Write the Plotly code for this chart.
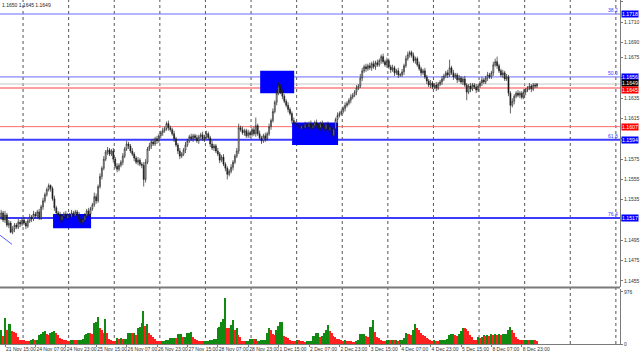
import plotly.graph_objects as go
import pandas as pd

# ---------------- data ----------------
start_time = "2025-11-21 13:00"
first_open = 1.1518

close = [
    1.1522,1.1515,1.1520,1.1510,1.1512,1.1503,1.1506,1.1510,1.1508,1.1513,1.1511,1.1515,1.1512,1.1509,1.1514,1.1518,1.1516,1.1521,1.1519,1.1523,
    1.1517,1.1528,1.1534,1.1540,1.1545,1.1549,1.1546,1.1536,1.1527,1.1522,1.1520,1.1515,1.1519,1.1521,1.1517,1.1520,1.1518,1.1522,1.1519,1.1523,
    1.1520,1.1516,1.1513,1.1515,1.1519,1.1524,1.1521,1.1526,1.1530,1.1538,1.1534,1.1548,1.1558,1.1566,1.1575,1.1582,1.1584,1.1580,1.1583,1.1575,
    1.1568,1.1565,1.1569,1.1572,1.1578,1.1585,1.1590,1.1588,1.1583,1.1580,1.1576,1.1572,1.1574,1.1570,1.1569,1.1555,1.1572,1.1585,1.1588,1.1592,
    1.1590,1.1595,1.1593,1.1598,1.1601,1.1603,1.1605,1.1610,1.1606,1.1604,1.1600,1.1595,1.1589,1.1583,1.1578,1.1580,1.1584,1.1589,1.1593,1.1597,
    1.1595,1.1598,1.1596,1.1593,1.1597,1.1599,1.1595,1.1597,1.1600,1.1596,1.1590,1.1586,1.1588,1.1583,1.1580,1.1574,1.1577,1.1570,1.1566,1.1560,
    1.1563,1.1567,1.1572,1.1578,1.1583,1.1606,1.1604,1.1601,1.1603,1.1598,1.1601,1.1599,1.1604,1.1600,1.1608,1.1600,1.1596,1.1593,1.1598,1.1595,
    1.1600,1.1607,1.1613,1.1622,1.1631,1.1640,1.1647,1.1641,1.1637,1.1632,1.1628,1.1624,1.1620,1.1613,1.1610,1.1609,1.1607,1.1605,1.1608,1.1606,
    1.1609,1.1607,1.1610,1.1606,1.1608,1.1611,1.1608,1.1606,1.1610,1.1607,1.1605,1.1609,1.1604,1.1606,1.1598,1.1605,1.1614,1.1618,1.1620,1.1622,
    1.1625,1.1628,1.1630,1.1633,1.1636,1.1638,1.1641,1.1645,1.1647,1.1655,1.1662,1.1666,1.1664,1.1667,1.1665,1.1669,1.1666,1.1670,1.1668,1.1672,
    1.1676,1.1671,1.1668,1.1672,1.1666,1.1663,1.1665,1.1660,1.1662,1.1658,1.1658,1.1661,1.1667,1.1674,1.1678,1.1680,1.1677,1.1672,1.1674,1.1668,
    1.1664,1.1660,1.1662,1.1656,1.1652,1.1648,1.1650,1.1646,1.1648,1.1645,1.1649,1.1651,1.1654,1.1657,1.1660,1.1658,1.1665,1.1660,1.1656,1.1658,
    1.1653,1.1655,1.1651,1.1654,1.1648,1.1641,1.1647,1.1644,1.1648,1.1646,1.1643,1.1647,1.1650,1.1653,1.1651,1.1655,1.1658,1.1656,1.1660,1.1668,
    1.1671,1.1667,1.1662,1.1658,1.1660,1.1654,1.1656,1.1640,1.1628,1.1632,1.1637,1.1640,1.1638,1.1640,1.1636,1.1641,1.1643,1.1645,1.1647,1.1644,
    1.1648,1.1647,1.1649,
]

# wick lengths above / below the candle body, in pips
wick_up = [
    3,2,4,2,3,2,3,2,2,3,2,2,3,2,2,3,2,3,2,2,
    3,2,3,2,2,2,1,2,3,2,2,3,2,2,3,2,2,3,2,2,
    2,3,2,2,3,2,3,2,2,4,3,2,3,2,3,2,3,2,2,3,
    2,3,2,2,3,2,3,2,2,3,2,2,3,2,2,3,3,2,3,2,
    3,2,3,2,2,3,2,2,3,2,2,3,2,2,3,2,2,3,2,2,
    3,2,2,3,2,2,3,2,3,2,2,3,2,2,3,2,2,3,2,2,
    2,3,2,2,3,4,2,3,2,2,3,2,2,3,8,2,3,2,2,3,
    2,3,2,3,2,3,4,2,3,2,2,3,2,2,3,2,2,3,2,2,
    3,2,2,3,2,2,3,2,2,3,2,2,3,2,3,2,2,3,2,2,
    2,3,2,2,3,2,2,3,2,4,3,2,3,2,3,2,3,2,3,2,
    2,3,2,3,2,2,3,2,2,3,2,3,2,3,3,2,2,3,2,2,
    3,2,2,3,2,2,3,2,2,3,2,2,3,2,2,3,8,2,3,2,
    2,3,2,2,3,2,2,3,2,2,3,2,2,3,2,2,3,2,2,3,
    3,5,2,2,3,2,3,2,2,3,2,2,3,2,2,3,2,2,3,2,
    2,2,1,
]
wick_dn = [
    3,2,3,2,3,1,2,3,2,2,3,2,2,3,2,2,3,2,2,3,
    2,2,3,2,2,2,3,2,3,2,2,3,2,3,2,2,3,2,2,3,
    2,3,2,3,2,2,2,3,2,2,3,2,2,3,2,2,3,2,2,3,
    2,3,2,2,3,2,2,3,2,2,3,2,3,2,3,7,3,2,2,3,
    2,2,3,2,2,3,2,2,3,2,2,3,2,3,3,2,2,3,2,2,
    2,3,2,2,3,2,2,3,2,2,3,2,3,2,2,3,2,2,3,5,
    2,2,3,2,2,3,2,2,3,2,2,3,2,2,3,2,2,3,2,3,
    2,2,3,2,2,3,2,2,3,2,2,3,2,3,2,2,3,2,2,3,
    2,2,3,2,2,3,2,2,3,2,3,2,3,2,4,2,2,3,2,2,
    2,3,2,2,3,2,2,3,2,2,3,2,3,2,2,3,2,3,2,2,
    3,2,2,3,2,3,2,3,2,3,2,2,3,2,2,3,2,2,3,2,
    2,3,2,2,3,2,3,2,2,3,2,2,3,2,2,3,2,2,3,2,
    3,2,2,3,2,8,2,3,2,2,3,2,2,3,2,2,3,2,2,3,
    2,3,2,2,3,2,2,3,8,2,3,2,2,3,2,2,3,2,2,3,
    2,2,2,
]

volume = [
    263,150,489,263,376,384,244,226,207,132,75,70,66,56,52,50,75,85,78,80,
    169,188,226,244,188,169,207,226,240,207,169,113,94,75,66,56,54,66,75,72,
    66,75,78,94,169,188,207,200,188,395,414,508,301,263,207,470,207,94,75,56,
    52,113,100,104,85,90,94,207,210,200,215,169,301,310,395,620,338,376,207,169,
    132,94,56,54,52,56,60,75,80,113,118,122,113,188,190,195,132,140,207,212,
    226,132,94,75,56,52,50,54,56,60,75,80,94,100,301,310,414,470,865,301,
    295,357,451,263,301,169,132,56,54,56,60,94,96,85,88,56,60,75,78,80,
    207,301,263,188,169,263,338,414,420,150,132,113,75,56,54,52,75,72,56,54,
    47,50,56,60,150,155,207,210,132,150,207,263,357,244,207,150,132,94,90,66,
    64,75,56,54,52,47,45,56,75,188,190,194,150,140,320,325,451,226,132,113,
    66,64,56,75,78,72,76,66,68,64,75,78,113,207,188,182,169,263,376,301,
    263,207,169,150,113,94,75,56,66,64,56,66,68,75,78,94,169,188,192,169,
    150,188,244,301,298,290,244,169,132,75,72,132,113,135,169,150,172,150,188,169,
    190,169,192,175,180,188,195,263,320,263,207,132,94,75,78,72,74,76,73,75,
    78,66,56,
]

time_labels = ["21 Nov 15:00", "24 Nov 07:00", "24 Nov 23:00", "25 Nov 15:00", "26 Nov 07:00",
               "26 Nov 23:00", "27 Nov 15:00", "28 Nov 07:00", "28 Nov 23:00", "1 Dec 15:00",
               "2 Dec 07:00", "2 Dec 23:00", "3 Dec 15:00", "4 Dec 07:00", "4 Dec 23:00",
               "5 Dec 15:00", "8 Dec 07:00", "8 Dec 23:00"]
price_ticks = [1.1730, 1.1710, 1.1690, 1.1675, 1.1655, 1.1635, 1.1615, 1.1595, 1.1575,
               1.1555, 1.1535, 1.1515, 1.1495, 1.1475, 1.1455]
volume_ticks = [0, 976]

fib_levels = [1.1718, 1.1656, 1.1594, 1.1517]
fib_names = ["38.2", "50.0", "61.8", "76.4"]
red_levels = [1.1645, 1.1607]

# rectangles (bar index from/to, price low/high)
rect_x0 = [27.3, 136.3, 153.1]
rect_x1 = [47.3, 154.2, 177.3]
rect_lo = [1.1507, 1.1640, 1.1589]
rect_hi = [1.1521, 1.1662, 1.1611]
# short trend line
trend_x = [-0.6, 5.7]
trend_y = [1.1500, 1.1491]

# ---------------- build ----------------
N = len(close)
assert len(wick_up) == N and len(wick_dn) == N and len(volume) == N, (N, len(wick_up), len(wick_dn), len(volume))

opens = [first_open] + close[:-1]
high = [max(o, c) + w / 10000 for o, c, w in zip(opens, close, wick_up)]
low = [min(o, c) - w / 10000 for o, c, w in zip(opens, close, wick_dn)]

# trading-hour timestamps (weekends skipped), extended into the empty right area
times = []
t = pd.Timestamp(start_time)
while len(times) < 340:
    if t.weekday() < 5:
        times.append(t)
    t += pd.Timedelta(hours=1)
fmt = [f"{tt.day} {tt.strftime('%b %H:%M')}" for tt in times]
label_idx = [fmt.index(s) for s in time_labels]
day_idx = [i for i, tt in enumerate(times) if tt.hour == 0]

idx = list(range(N))
vol_colors = ["#118a11" if (i == 0 or volume[i] > volume[i - 1]) else "#ff2020" for i in idx]

X_RANGE = [-0.63, 325.68]

fig = go.Figure()
fig.add_trace(go.Candlestick(
    x=idx, open=opens, high=high, low=low, close=close,
    increasing=dict(line=dict(color="#222222", width=0.7), fillcolor="white"),
    decreasing=dict(line=dict(color="#222222", width=0.7), fillcolor="black"),
    whiskerwidth=0, xaxis="x", yaxis="y", hoverinfo="skip", showlegend=False,
))
fig.add_trace(go.Bar(
    x=idx, y=volume, marker=dict(color=vol_colors, line=dict(width=0)),
    width=0.8, xaxis="x2", yaxis="y2", hoverinfo="skip", showlegend=False,
))

shapes = []
# day separators (dashed)
for d in day_idx:
    shapes.append(dict(type="line", xref="x", yref="paper", x0=d + 0.5, x1=d + 0.5, y0=0, y1=1,
                       line=dict(color="#555555", width=1, dash="dot"), layer="below"))
# rectangles
for a, b, lo, hi in zip(rect_x0, rect_x1, rect_lo, rect_hi):
    shapes.append(dict(type="rect", xref="x", yref="y", x0=a, x1=b, y0=lo, y1=hi,
                       fillcolor="#0000ff", line=dict(width=0), layer="below"))
# horizontal levels
fib_widths = [1, 1, 2, 2]
fib_colors = ["#6a6aff", "#6a6aff", "#3c3cff", "#3c3cff"]
for lv, w, c in zip(fib_levels, fib_widths, fib_colors):
    shapes.append(dict(type="line", xref="paper", yref="y", x0=0, x1=1, y0=lv, y1=lv,
                       line=dict(color=c, width=w), layer="below"))
shapes.append(dict(type="line", xref="paper", yref="y", x0=0, x1=1, y0=close[-1], y1=close[-1],
                   line=dict(color="#c8c8c8", width=1), layer="below"))
shapes.append(dict(type="line", xref="paper", yref="y", x0=0, x1=1, y0=red_levels[0], y1=red_levels[0],
                   line=dict(color="#ffa0a0", width=2), layer="below"))
shapes.append(dict(type="line", xref="paper", yref="y", x0=0, x1=1, y0=red_levels[1], y1=red_levels[1],
                   line=dict(color="#ff6a6a", width=1), layer="below"))
# trend line
shapes.append(dict(type="line", xref="x", yref="y", x0=trend_x[0], x1=trend_x[1], y0=trend_y[0], y1=trend_y[1],
                   line=dict(color="#5a5aff", width=1)))
# pane separator
shapes.append(dict(type="line", xref="paper", yref="paper", x0=0, x1=1, y0=0.1642, y1=0.1642,
                   line=dict(color="#7a7a7a", width=2)))

ann = []
FONT = "Liberation Sans"
for lv, nm in zip(fib_levels, fib_names):
    ann.append(dict(xref="paper", yref="y", x=1, y=lv, xanchor="right", yanchor="bottom", xshift=-1,
                    text=nm, showarrow=False, borderpad=0, font=dict(size=5, color="#3a3aff", family=FONT)))
    ann.append(dict(xref="paper", yref="y", x=1, y=lv, xanchor="left", yanchor="middle", xshift=1,
                    text=f"{lv:.4f}", showarrow=False, bgcolor="#0000ff", borderpad=0,
                    font=dict(size=5.2, color="white", family=FONT)))
ann.append(dict(xref="paper", yref="y", x=1, y=close[-1], xanchor="left", yanchor="middle", xshift=1, yshift=1.5,
                text=f"{close[-1]:.4f}", showarrow=False, bgcolor="#000000", borderpad=0,
                font=dict(size=5.2, color="white", family=FONT)))
for k, lv in enumerate(red_levels):
    ann.append(dict(xref="paper", yref="y", x=1, y=lv, xanchor="left", yanchor="middle", xshift=1,
                    yshift=-1.5 if k == 0 else 0,
                    text=f"{lv:.4f}", showarrow=False, bgcolor="#ff0000", borderpad=0,
                    font=dict(size=5.2, color="white", family=FONT)))
ann.append(dict(xref="paper", yref="paper", x=0, y=1, xanchor="left", yanchor="top", xshift=1, yshift=-1,
                text=f"{high[-1]:.4f} {low[-1]:.4f} {close[-1]:.4f}", showarrow=False, borderpad=0,
                font=dict(size=5, color="#222222", family=FONT)))

# tick labels hidden behind the level boxes
box_levels = fib_levels + red_levels + [close[-1]]
tick_text = ["" if any(abs(v - b) < 0.00035 for b in box_levels) else f"{v:.4f}" for v in price_ticks]

fig.update_layout(
    width=640, height=356,
    margin=dict(l=0, r=20, t=0, b=12, autoexpand=False),
    paper_bgcolor="white", plot_bgcolor="white",
    showlegend=False, bargap=0,
    shapes=shapes, annotations=ann,
    xaxis=dict(domain=[0, 1], range=X_RANGE, anchor="y", showticklabels=False, showgrid=False,
               zeroline=False, showline=False, ticks="", rangeslider=dict(visible=False), automargin=False),
    yaxis=dict(domain=[57 / 344, 1], range=[1.14490, 1.17318], side="right", anchor="x",
               tickvals=price_ticks, ticktext=tick_text,
               ticks="outside", ticklen=2, tickcolor="#7a7a7a", showline=True, linecolor="#7a7a7a",
               showgrid=False, zeroline=False, automargin=False,
               tickfont=dict(size=5, color="#333333", family=FONT)),
    xaxis2=dict(domain=[0, 1], range=X_RANGE, matches="x", anchor="y2",
                tickvals=label_idx, ticktext=time_labels, ticks="outside", ticklen=2, tickangle=0,
                tickcolor="#7a7a7a", ticklabelposition="outside right", automargin=False,
                showline=True, linecolor="#7a7a7a", showgrid=False, zeroline=False,
                tickfont=dict(size=5, color="#333333", family=FONT)),
    yaxis2=dict(domain=[0, 55 / 344], range=[0, 1032], side="right", anchor="x2",
                tickvals=volume_ticks, ticktext=[str(v) for v in volume_ticks],
                ticks="outside", ticklen=2, tickcolor="#7a7a7a", showline=True, linecolor="#7a7a7a",
                showgrid=False, zeroline=False, automargin=False,
                tickfont=dict(size=5, color="#333333", family=FONT)),
)

fig.write_html("out.html")
